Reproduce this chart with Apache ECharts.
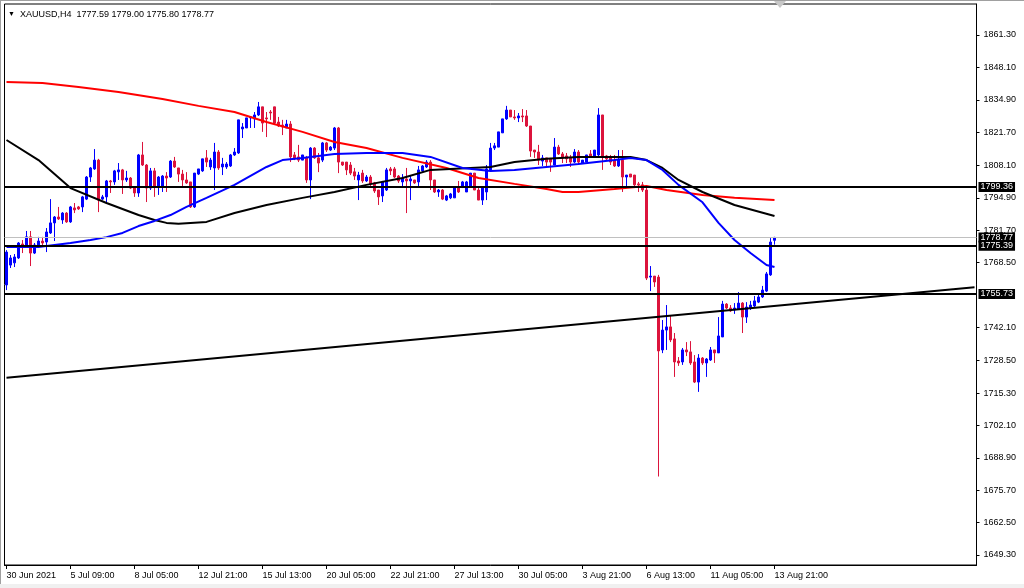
<!DOCTYPE html>
<html><head><meta charset="utf-8">
<script src="https://cdn.jsdelivr.net/npm/echarts@6/dist/echarts.min.js"></script>
<style>
html,body{margin:0;padding:0;background:#fff;}
#wrap{position:relative;width:1024px;height:588px;overflow:hidden;}
#c{width:1024px;height:588px;}
.fr{position:absolute;pointer-events:none;}
#topline{left:0;top:0;width:1024px;height:1px;background:#a0a0a0;}
#leftline{left:0;top:0;width:1px;height:588px;background:#a0a0a0;}
#bottomstrip{left:0;top:584px;width:1024px;height:4px;background:#f0f0f0;}
#shift{left:774px;top:1px;width:0;height:0;border-left:6px solid transparent;border-right:6px solid transparent;border-top:7px solid #c8c8c8;}
</style>
</head><body><div id="wrap"><div id="c"></div>
<div class="fr" id="topline"></div><div class="fr" id="leftline"></div><div class="fr" id="bottomstrip"></div><div class="fr" id="shift"></div></div>
<script>
const headerSymbol = 'XAUUSD,H4';
const headerOHLC = [1777.59, 1779.00, 1775.80, 1778.77];
const tickLabels = ['30 Jun 2021','5 Jul 09:00','8 Jul 05:00','12 Jul 21:00','15 Jul 13:00','20 Jul 05:00','22 Jul 21:00','27 Jul 13:00','30 Jul 05:00','3 Aug 21:00','6 Aug 13:00','11 Aug 05:00','13 Aug 21:00'];
const barsPerLabel = 16;
const slotCount = 243;
const priceTicks = [1861.30,1848.10,1834.90,1821.70,1808.10,1794.90,1781.70,1768.50,1742.10,1728.50,1715.30,1702.10,1688.90,1675.70,1662.50,1649.30];
const priceMin = 1645.22, priceMax = 1873.94;
// [open, close, low, high]
const candles = [
[1759.4,1772.8,1757.3,1773.6],[1767.5,1770.4,1766.3,1771.6],[1768.4,1770.8,1766.7,1772.0],[1770.4,1776.5,1770.0,1776.9],
[1776.1,1774.9,1772.4,1777.7],[1774.9,1779.0,1774.5,1781.4],[1779.0,1772.4,1767.1,1781.4],[1772.4,1775.7,1772.0,1776.5],
[1775.3,1777.3,1774.9,1779.0],[1777.3,1776.5,1774.9,1779.0],[1776.9,1781.0,1772.8,1782.6],[1780.6,1784.7,1780.2,1794.4],
[1784.7,1787.1,1777.3,1787.5],[1787.1,1786.3,1785.9,1791.2],[1785.9,1788.7,1784.3,1789.1],[1788.7,1785.1,1784.7,1789.1],
[1785.1,1791.2,1784.7,1791.6],[1790.8,1790.0,1788.7,1792.8],[1791.2,1790.4,1790.0,1791.6],[1791.2,1795.3,1789.1,1795.7],
[1794.4,1803.4,1794.0,1803.8],[1803.4,1807.1,1801.4,1807.5],[1806.7,1810.3,1806.3,1814.8],[1810.3,1794.0,1789.1,1810.8],
[1794.4,1795.3,1794.0,1796.1],[1795.3,1801.8,1792.8,1802.2],[1801.8,1801.4,1796.9,1802.2],[1801.4,1805.9,1800.2,1806.3],
[1805.5,1806.3,1802.2,1809.1],[1806.3,1802.2,1796.5,1806.7],[1802.2,1803.0,1801.4,1805.9],[1803.0,1798.9,1798.5,1803.4],
[1799.3,1796.9,1795.3,1799.7],[1796.9,1812.4,1795.3,1812.8],[1812.4,1808.3,1807.9,1817.7],[1808.3,1798.9,1793.2,1808.7],
[1798.9,1805.9,1798.1,1807.1],[1805.9,1799.3,1795.3,1807.1],[1799.7,1803.4,1796.1,1803.8],[1799.7,1803.8,1797.3,1804.2],
[1803.8,1803.0,1797.3,1805.4],[1803.4,1809.9,1803.0,1810.3],[1809.9,1807.5,1807.1,1811.6],[1807.1,1804.6,1801.4,1807.1],
[1804.6,1802.2,1799.3,1806.3],[1802.2,1801.0,1800.6,1805.4],[1801.4,1791.2,1790.8,1801.4],[1791.2,1805.0,1790.8,1805.0],
[1804.6,1806.7,1804.2,1806.7],[1805.9,1810.8,1805.5,1810.8],[1811.2,1809.5,1807.5,1814.4],[1807.5,1810.3,1806.3,1811.2],
[1807.1,1813.6,1798.1,1817.3],[1813.6,1807.1,1806.3,1814.4],[1807.5,1808.7,1804.2,1811.2],[1807.5,1808.7,1806.7,1809.5],
[1807.9,1812.4,1807.5,1812.8],[1812.4,1813.6,1812.0,1815.2],[1813.2,1826.7,1812.8,1826.7],[1823.0,1823.8,1819.3,1825.4],
[1823.4,1827.5,1823.4,1827.5],[1827.5,1827.9,1823.4,1827.9],[1827.1,1828.7,1823.4,1829.9],[1828.7,1832.0,1828.3,1834.0],
[1832.0,1825.4,1821.8,1832.0],[1827.5,1827.1,1819.7,1829.9],[1829.9,1829.5,1826.7,1830.7],[1832.0,1825.4,1824.6,1832.0],
[1825.8,1824.2,1823.8,1827.9],[1824.6,1823.8,1820.5,1826.7],[1823.4,1825.0,1823.4,1826.7],[1825.0,1811.6,1809.5,1826.2],
[1812.4,1811.2,1810.3,1813.6],[1811.6,1810.3,1809.5,1816.5],[1810.3,1812.4,1810.3,1812.4],[1811.2,1802.2,1801.0,1812.0],
[1802.2,1815.2,1794.4,1815.6],[1815.2,1811.2,1810.8,1815.6],[1811.2,1809.1,1805.4,1813.2],[1810.3,1817.3,1809.5,1817.7],
[1817.3,1814.4,1813.6,1817.7],[1814.4,1815.6,1814.0,1816.0],[1815.2,1823.4,1814.4,1823.8],[1823.4,1809.5,1805.0,1823.8],
[1809.5,1808.3,1807.9,1809.5],[1809.5,1806.3,1804.2,1809.5],[1808.3,1805.0,1804.2,1809.5],[1805.5,1803.8,1802.2,1807.1],
[1802.2,1804.2,1794.0,1805.5],[1805.0,1801.8,1801.0,1806.3],[1801.8,1803.4,1801.4,1804.2],[1803.4,1800.6,1799.7,1804.2],
[1801.0,1797.7,1796.9,1801.4],[1798.1,1795.3,1792.0,1798.1],[1795.7,1801.4,1793.2,1801.8],[1798.1,1806.3,1797.7,1807.1],
[1806.7,1805.9,1804.2,1807.5],[1806.7,1803.4,1803.0,1807.5],[1803.8,1801.8,1801.0,1804.2],[1801.4,1803.0,1799.7,1804.6],
[1802.6,1801.8,1788.7,1807.1],[1801.8,1802.6,1794.0,1804.2],[1802.2,1801.0,1800.6,1802.2],[1801.4,1806.3,1799.3,1807.9],
[1805.9,1807.9,1805.5,1808.3],[1807.5,1809.5,1807.1,1810.3],[1809.5,1802.2,1798.1,1810.3],[1802.2,1797.3,1796.9,1802.2],
[1797.3,1798.1,1795.3,1798.5],[1798.1,1794.4,1794.0,1798.5],[1794.0,1795.7,1793.6,1796.1],[1794.9,1796.5,1794.4,1796.9],
[1794.9,1799.3,1794.9,1799.7],[1799.3,1797.3,1796.9,1801.8],[1799.3,1801.4,1798.9,1801.8],[1797.3,1801.4,1797.3,1801.8],
[1799.3,1805.0,1799.3,1805.0],[1805.0,1798.1,1798.1,1805.0],[1798.1,1794.0,1794.0,1798.9],[1794.0,1798.9,1792.0,1799.3],
[1797.3,1806.7,1794.0,1808.3],[1806.3,1815.2,1806.3,1817.3],[1815.2,1816.1,1814.4,1817.3],[1815.6,1821.8,1815.6,1821.8],
[1821.4,1827.1,1821.4,1827.1],[1827.1,1830.7,1826.7,1832.4],[1830.7,1827.9,1827.9,1830.7],[1827.9,1827.5,1826.7,1830.7],
[1827.5,1828.3,1825.8,1829.5],[1828.3,1827.9,1825.8,1831.1],[1828.3,1824.2,1823.8,1830.7],[1824.2,1814.0,1811.6,1824.2],
[1814.4,1813.6,1811.2,1814.4],[1813.6,1810.3,1808.3,1816.5],[1809.9,1811.2,1807.9,1812.4],[1811.2,1809.5,1807.5,1811.2],
[1810.8,1809.5,1805.5,1811.2],[1808.3,1815.6,1808.3,1819.3],[1815.6,1812.8,1812.4,1816.5],[1812.8,1811.2,1809.1,1813.6],
[1812.0,1810.8,1809.1,1813.2],[1811.2,1809.5,1807.5,1812.4],[1809.5,1813.6,1809.1,1814.8],[1813.6,1809.5,1808.3,1814.4],
[1809.1,1810.3,1808.7,1810.3],[1809.5,1812.4,1809.5,1812.4],[1812.8,1811.6,1811.2,1814.4],[1811.6,1814.4,1811.6,1814.4],
[1812.4,1828.7,1811.6,1831.5],[1828.7,1811.6,1806.3,1828.7],[1812.0,1810.8,1810.3,1812.4],[1811.2,1809.5,1808.3,1812.4],
[1810.3,1807.9,1807.5,1812.4],[1807.9,1810.3,1807.5,1814.4],[1810.3,1803.4,1797.3,1814.4],[1803.4,1804.2,1799.3,1804.2],
[1804.6,1803.4,1803.4,1804.6],[1804.2,1800.2,1799.3,1804.2],[1800.6,1800.2,1797.3,1801.4],[1800.2,1798.1,1797.3,1801.4],
[1798.1,1762.2,1761.4,1799.3],[1762.6,1763.0,1756.9,1767.1],[1763.0,1760.6,1758.6,1763.0],[1762.6,1732.5,1681.3,1763.5],
[1732.9,1741.0,1731.6,1745.1],[1741.0,1742.3,1732.9,1751.2],[1742.3,1737.0,1736.1,1747.1],[1737.4,1728.0,1721.9,1739.8],
[1728.4,1727.6,1726.4,1730.0],[1728.0,1732.9,1726.8,1733.7],[1732.9,1732.1,1730.4,1736.1],[1732.1,1727.6,1726.8,1736.5],
[1728.0,1719.8,1719.4,1730.8],[1719.8,1729.6,1715.8,1731.2],[1729.6,1727.6,1726.8,1730.0],[1727.6,1729.2,1721.9,1729.6],
[1728.8,1732.9,1728.4,1734.1],[1732.9,1731.7,1727.6,1732.9],[1731.7,1738.6,1731.7,1746.3],[1738.2,1751.6,1738.2,1752.9],
[1751.6,1750.0,1749.6,1752.0],[1750.0,1748.8,1748.4,1751.2],[1749.2,1750.0,1747.6,1752.0],[1749.6,1752.0,1749.2,1756.5],
[1752.0,1746.3,1739.8,1752.4],[1746.3,1750.4,1743.9,1752.4],[1750.0,1751.2,1749.2,1752.9],[1750.8,1752.9,1750.4,1754.9],
[1752.4,1754.5,1752.0,1755.3],[1754.5,1757.3,1754.1,1759.0],[1756.9,1763.9,1756.5,1764.7],[1763.5,1776.9,1763.1,1778.5],
[1777.59,1778.77,1775.80,1779.00]
];
const redMaBars = [0,9,18,28,39,48,57,65,74,82,90,99,110,118,127,135,139,143,152,160,165,174,182,192];
const redMaValues = [1842.1,1841.7,1840.1,1838.1,1835.2,1832.4,1829.9,1825.8,1821.8,1817.7,1815.2,1811.2,1807.1,1803.0,1800.6,1798.5,1797.3,1797.3,1798.5,1799.7,1798.1,1796.1,1794.9,1794.0];
const blackMaBars = [0,8,16,25,33,37,40,43,46,50,57,65,74,82,90,99,106,121,127,135,143,152,156,160,164,168,174,182,192];
const blackMaValues = [1818.5,1810.3,1798.9,1792.8,1787.9,1785.9,1784.7,1784.3,1784.7,1785.1,1788.7,1792.0,1794.9,1797.3,1800.2,1803.0,1806.3,1807.5,1809.5,1810.8,1811.6,1811.6,1811.6,1810.3,1807.1,1802.2,1797.3,1792.0,1787.5];
const blueMaBars = [0,8,16,21,25,29,33,37,41,45,50,57,65,69,74,82,90,99,106,114,121,127,135,143,152,156,160,164,168,174,178,182,186,190,192];
const blueMaValues = [1774.9,1774.9,1776.5,1777.7,1778.9,1780.6,1783.4,1785.5,1787.9,1791.2,1794.9,1800.2,1807.5,1810.3,1811.2,1812.8,1813.2,1813.2,1811.6,1807.1,1805.9,1806.3,1807.5,1808.7,1810.3,1811.2,1810.3,1806.3,1800.2,1793.1,1784.7,1777.7,1772.4,1767.5,1766.7];
const trendBars = [0, 242];
const trendValues = [1721.54, 1758.48];
const levelPrices = [1799.36, 1775.39, 1755.73];
const bidPrice = 1778.77;

const categories = Array.from({length: slotCount}, (_, i) =>
  (i % barsPerLabel === 0 && i / barsPerLabel < tickLabels.length) ? tickLabels[i / barsPerLabel] : '');
const pair = (xs, ys) => xs.map((x, k) => [x, ys[k]]);
const FONT = 'Liberation Sans';
const BULL = '#0000ff', BEAR = '#dc143c';

const chart = echarts.init(document.getElementById('c'), null, {renderer: 'canvas'});
chart.setOption({
  animation: false,
  backgroundColor: '#fff',
  title: {
    text: '{t|▼}  ' + headerSymbol + '  ' + headerOHLC.map(v => v.toFixed(2)).join(' '),
    left: 3, top: 5,
    textStyle: {fontSize: 9, fontWeight: 'normal', color: '#000', fontFamily: FONT,
      rich: {t: {fontSize: 7, color: '#000'}}}
  },
  grid: {left: 4.5, right: 47.5, top: 4, bottom: 23, show: true, borderColor: '#000', borderWidth: 1},
  xAxis: {
    type: 'category', data: categories, boundaryGap: true,
    axisLine: {show: true, lineStyle: {color: '#000', width: 1}},
    axisTick: {show: true, alignWithLabel: true, length: 4, interval: (i, v) => v !== '', lineStyle: {color: '#000'}},
    axisLabel: {interval: (i, v) => v !== '', align: 'left', margin: 6, padding: [0, 0, 0, 0],
      fontSize: 9, color: '#000', fontFamily: FONT},
    splitLine: {show: false}
  },
  yAxis: {
    type: 'value', position: 'right', min: priceMin, max: priceMax, scale: true,
    axisLine: {show: true, lineStyle: {color: '#000', width: 1}},
    axisTick: {show: true, length: 3, customValues: priceTicks, lineStyle: {color: '#000'}},
    axisLabel: {customValues: priceTicks, formatter: v => v.toFixed(2), margin: 7,
      fontSize: 9, color: '#000', fontFamily: FONT},
    splitLine: {show: false}
  },
  series: [
    {
      type: 'candlestick', data: candles, barWidth: 2, z: 2,
      itemStyle: {color: BULL, color0: BEAR, borderColor: BULL, borderColor0: BEAR, borderColorDoji: BEAR, borderWidth: 1}
    },
    {type: 'line', data: pair(redMaBars, redMaValues), symbol: 'none', z: 3,
      lineStyle: {color: '#ff0000', width: 2}},
    {type: 'line', data: pair(blackMaBars, blackMaValues), symbol: 'none', z: 3,
      lineStyle: {color: '#000000', width: 2}},
    {type: 'line', data: pair(blueMaBars, blueMaValues), symbol: 'none', z: 3,
      lineStyle: {color: '#0000ff', width: 2}},
    {type: 'line', data: pair(trendBars, trendValues), symbol: 'none', z: 4,
      lineStyle: {color: '#000000', width: 2},
      markLine: {
        silent: true, symbol: ['none', 'none'], animation: false,
        label: {show: true, position: 'end', distance: 2, formatter: p => p.value.toFixed(2),
          color: '#fff', backgroundColor: '#000', fontSize: 9, fontFamily: FONT, padding: [1, 2, 0, 2]},
        data: [{yAxis: bidPrice, lineStyle: {color: '#c0c0c0', width: 1, type: 'solid'}}]
          .concat(levelPrices.map(v => ({yAxis: v, lineStyle: {color: '#000', width: 2, type: 'solid'}})))
      }
    }
  ]
});
</script></body></html>
